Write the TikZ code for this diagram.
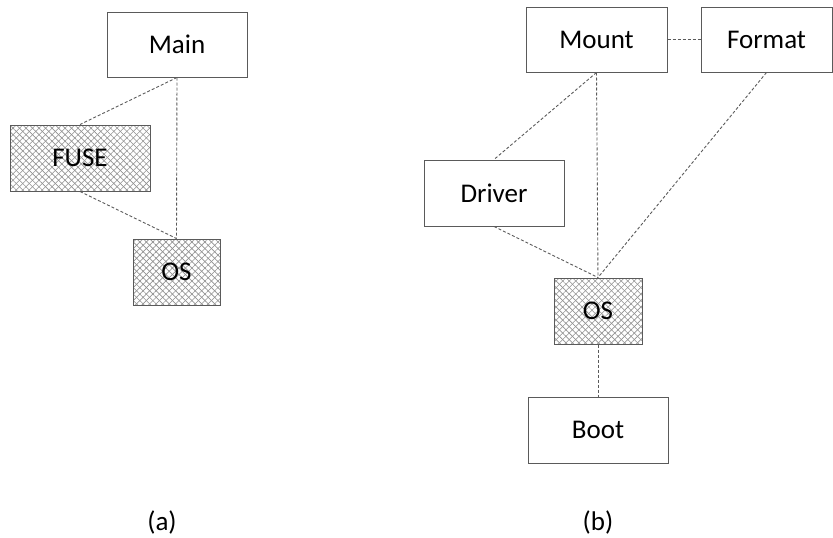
\documentclass[tikz,border=0pt]{standalone}
\usepackage{fontspec}
\setmainfont{Carlito}
\usetikzlibrary{patterns.meta}
\definecolor{edgegray}{RGB}{90,90,90}
\definecolor{hatchgray}{RGB}{145,145,145}
\tikzset{
  box/.style={draw=edgegray, line width=1pt, fill=white, rectangle, inner sep=0pt,
    font=\fontsize{27}{31}\selectfont},
  hatched/.style={box,
    postaction={pattern={Lines[angle=45,distance=4.6pt,line width=0.6pt]}, pattern color=hatchgray},
    postaction={pattern={Lines[angle=-45,distance=4.6pt,line width=0.6pt]}, pattern color=hatchgray},
    postaction={draw=edgegray, line width=1pt}},
  link/.style={draw=edgegray, line width=0.9pt, dash pattern=on 3pt off 2pt},
  captext/.style={font=\fontsize{27}{31}\selectfont}
}
\begin{document}
\begin{tikzpicture}[x=1pt,y=-1pt]
\useasboundingbox (0,0) rectangle (833,538);
% (a)
\node[box, minimum width=140pt, minimum height=65pt] (main) at (177,44.5) {Main};
\node[hatched, minimum width=140pt, minimum height=66pt] (fuse) at (80,158) {FUSE};
\node[hatched, minimum width=87pt, minimum height=66pt] (osa) at (176.5,272) {OS};
\draw[link] (main.south) -- (fuse.north);
\draw[link] (main.south) -- (osa.north);
\draw[link] (fuse.south) -- (osa.north);
\node[captext] (capa) at (162,522) {(a)};
% (b)
\node[box, minimum width=141pt, minimum height=65pt] (mount) at (596.5,39.5) {Mount};
\node[box, minimum width=131pt, minimum height=65pt] (format) at (766.5,39.5) {Format};
\node[box, minimum width=140pt, minimum height=66pt] (driver) at (494,193) {Driver};
\node[hatched, minimum width=88pt, minimum height=66pt] (osb) at (598,311) {OS};
\node[box, minimum width=140pt, minimum height=66pt] (boot) at (598,430) {Boot};
\draw[link] (mount.east) -- (format.west);
\draw[link] (mount.south) -- (driver.north);
\draw[link] (mount.south) -- (osb.north);
\draw[link] (format.south) -- (osb.north);
\draw[link] (driver.south) -- (osb.north);
\draw[link] (osb.south) -- (boot.north);
\node[captext] (capb) at (598,522) {(b)};
\end{tikzpicture}
\end{document}
